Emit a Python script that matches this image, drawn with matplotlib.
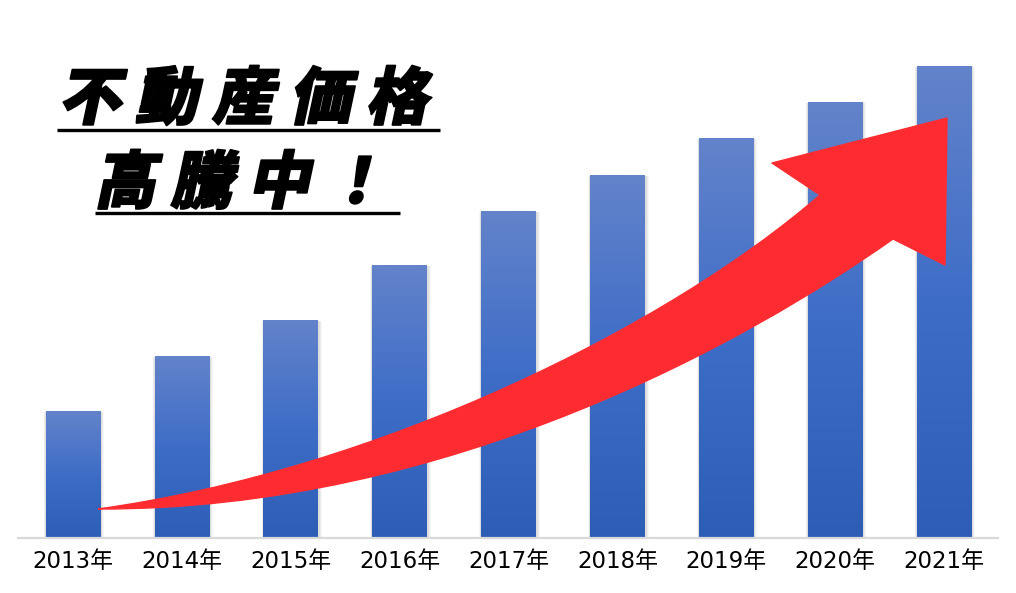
import numpy as np
import matplotlib.pyplot as plt
from matplotlib import patheffects
from matplotlib.patches import PathPatch, Rectangle
from matplotlib.path import Path
from matplotlib.transforms import Affine2D
from matplotlib.colors import LinearSegmentedColormap

plt.rcParams['font.family'] = ['Noto Sans CJK JP', 'DejaVu Sans']

# data (relative price index)
years = ['2013年', '2014年', '2015年', '2016年', '2017年',
         '2018年', '2019年', '2020年', '2021年']
values = [127, 182, 218, 273, 327, 363, 400, 436, 472]
title_1 = '不 動 産 価 格'
title_2 = '高 騰 中 ！'

# arrow outline in pixel coordinates (decoration only):
# tail, bezier controls of the upper edge, notch, head, notch, lower edge controls
arrow_pts = [(98, 509), (380, 470), (669, 326), (820, 195),
             (772, 163), (947, 118), (945, 265), (893, 239),
             (750, 340), (450, 510), (98, 509)]
arrow_codes = [Path.MOVETO, Path.CURVE4, Path.CURVE4, Path.CURVE4,
               Path.LINETO, Path.LINETO, Path.LINETO, Path.LINETO,
               Path.CURVE4, Path.CURVE4, Path.CURVE4]


class Slant(patheffects.AbstractPathEffect):
    """fake italic + heavier stroke for CJK glyphs"""

    def __init__(self, deg=12, lw=1.2):
        super().__init__()
        self.skew = Affine2D().skew_deg(deg, 0)
        self.lw = lw

    def draw_path(self, renderer, gc, tpath, affine, rgbFace=None):
        gc0 = renderer.new_gc()
        gc0.copy_properties(gc)
        gc0.set_linewidth(self.lw)
        gc0.set_foreground('black')
        gc0.set_joinstyle('round')
        renderer.draw_path(gc0, tpath, self.skew + affine, rgbFace)
        gc0.restore()


W, H = 1016, 593
fig = plt.figure(figsize=(W / 100, H / 100), dpi=100)
ax = fig.add_axes([18.5 / W, 55 / H, 980 / W, 538 / H])

x = np.arange(len(years))
width = 0.5
cmap = LinearSegmentedColormap.from_list(
    'bar', ['#2e5db6', '#3e6dc7', '#6383ca'])
grad = np.linspace(0, 1, 256).reshape(-1, 1)
px = 1 / 108.9  # one pixel in x data units

for xi, v in zip(x, values):
    # soft shadow, mostly to the right
    for k, a in [(4, 0.06), (3, 0.09), (2, 0.12)]:
        ax.add_patch(Rectangle((xi - width / 2 - 0.5 * k * px, 0),
                               width + 1.5 * k * px, v - 1,
                               color='#808080', alpha=a, lw=0, zorder=1))
    bar = Rectangle((xi - width / 2, 0), width, v, facecolor='none',
                    edgecolor='none', zorder=2)
    ax.add_patch(bar)
    im = ax.imshow(grad, extent=(xi - width / 2, xi + width / 2, 0, v),
                   origin='lower', cmap=cmap, aspect='auto', zorder=2)
    im.set_clip_path(bar)

ax.set_xlim(-0.5, len(years) - 0.5)
ax.set_ylim(0, 538)
for s in ['top', 'right', 'left']:
    ax.spines[s].set_visible(False)
ax.spines['bottom'].set_color('#d9d9d9')
ax.spines['bottom'].set_linewidth(1.6)
ax.spines['bottom'].set_zorder(3)
ax.set_yticks([])
ax.set_xticks(x)
ax.set_xticklabels(years, fontsize=16.5, color='black',
                   family=['DejaVu Sans', 'Noto Sans CJK JP'])
ax.tick_params(axis='x', length=0, pad=9)

# overlay for decorations
ov = fig.add_axes([0, 0, 1, 1], zorder=5)
ov.set_xlim(0, W)
ov.set_ylim(H, 0)
ov.axis('off')
ov.patch.set_visible(False)

ov.add_patch(PathPatch(Path(arrow_pts, arrow_codes), facecolor='#fe2c30',
                       edgecolor='#fe2c30', lw=1.0, joinstyle='round'))

t1 = ov.text(243, 119, title_1, fontsize=45, fontweight='heavy',
             ha='center', va='baseline', color='black')
t2 = ov.text(240, 203, title_2, fontsize=45, fontweight='heavy',
             ha='center', va='baseline', color='black')
for t in (t1, t2):
    t.set_path_effects([Slant(12, 1.3)])

ov.plot([57, 440], [130, 130], color='black', lw=2.4, solid_capstyle='butt')
ov.plot([95, 400], [212.5, 212.5], color='black', lw=2.4, solid_capstyle='butt')

fig.savefig('out.png', dpi=100)
